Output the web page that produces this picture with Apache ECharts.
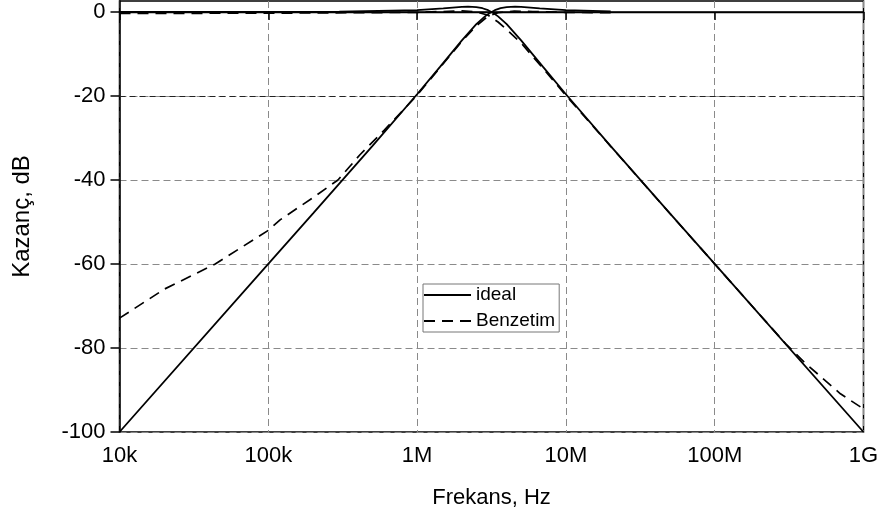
<!DOCTYPE html>
<html>
<head>
<meta charset="utf-8">
<script src="https://cdn.jsdelivr.net/npm/echarts@6/dist/echarts.min.js"></script>
<style>
  html, body { margin: 0; padding: 0; background: #fff; }
  #chart { width: 885px; height: 517px; }
</style>
</head>
<body>
<div id="chart"></div>
<script>
// Frequency axis labels, one per decade
const xTickValues = [1e4, 1e5, 1e6, 1e7, 1e8, 1e9];
const xTickLabels = ['10k', '100k', '1M', '10M', '100M', '1G'];
const yTickValues = [-100, -80, -60, -40, -20, 0];

// Ideal low-pass response (Hz, dB)
const idealLpFreq = [1e4, 1e5, 3e5, 1e6, 1.5e6, 2e6, 2.2e6, 2.5e6, 2.75e6, 3e6, 3.25e6, 3.5e6, 4e6, 5e6, 7e6, 1e7, 2e7, 5e7, 1e8, 1e9];
const idealLpGain = [0, 0, 0.04, 0.41, 0.83, 1.19, 1.25, 1.16, 0.88, 0.41, -0.25, -1.06, -2.92, -6.77, -13.03, -19.59, -31.93, -47.94, -60, -100];

// Ideal high-pass response (Hz, dB)
const idealHpFreq = [1e4, 1e5, 2e5, 5e5, 1e6, 1.43e6, 2e6, 2.5e6, 2.86e6, 3.08e6, 3.33e6, 3.64e6, 4e6, 4.55e6, 5e6, 6.67e6, 1e7, 2e7];
const idealHpGain = [-100, -60, -47.94, -31.93, -19.59, -13.03, -6.77, -2.92, -1.06, -0.25, 0.41, 0.88, 1.16, 1.25, 1.19, 0.83, 0.41, 0.11];

// Simulated low-pass response (Hz, dB)
const simLpFreq = [1e4, 1e5, 1e6, 1.5e6, 2e6, 2.5e6, 3e6, 3.5e6, 4e6, 5e6, 7e6, 1e7, 2e7, 5e7, 1e8, 2e8, 3e8, 4e8, 5e8, 7e8, 1e9];
const simLpGain = [-0.35, -0.3, -0.1, 0.1, 0.25, 0.0, -0.8, -2.4, -4.2, -7.4, -13.4, -19.9, -32, -48, -60, -72, -79, -83.4, -86.4, -90.9, -94.5];

// Simulated high-pass response (Hz, dB)
const simHpFreq = [1e4, 2e4, 4.4e4, 1e5, 1.2e5, 2e5, 2.94e5, 4.13e5, 6e5, 8e5, 1e6, 1.43e6, 2e6, 2.5e6, 3e6, 3.5e6, 4.5e6, 6e6, 1e7, 2e7];
const simHpGain = [-72.9, -66, -60, -52, -49.5, -44.2, -40, -34, -28.2, -23.5, -19.8, -13.2, -7.0, -3.3, -1.0, -0.2, 0.2, 0.1, -0.1, -0.2];

const pairs = (f, g) => f.map((v, i) => [v, g[i]]);

const FONT = '"Liberation Sans", Arial, sans-serif';
const solidStyle = { color: '#000', width: 1.8, type: 'solid' };
const dashStyle = { color: '#000', width: 1.7, type: [11, 7] };

const chart = echarts.init(document.getElementById('chart'), null, { renderer: 'canvas' });

chart.setOption({
  animation: false,
  backgroundColor: '#fff',
  grid: {
    left: 119.5, right: 21.5, top: 1, bottom: 85,
    show: true, borderColor: '#000', borderWidth: 1.5, backgroundColor: 'transparent'
  },
  legend: {
    data: ['ideal', 'Benzetim'],
    orient: 'vertical',
    left: 423, top: 284,
    padding: [1, 4, 1, 0],
    itemWidth: 47, itemHeight: 14, itemGap: 6,
    itemStyle: { opacity: 0 },
    backgroundColor: '#fff',
    borderColor: '#777', borderWidth: 1,
    textStyle: { fontFamily: FONT, fontSize: 19, color: '#000', lineHeight: 20 }
  },
  xAxis: {
    type: 'log', logBase: 10, min: 1e4, max: 1e9,
    name: 'Frekans, Hz', nameLocation: 'middle', nameGap: 55,
    nameTextStyle: { fontFamily: FONT, fontSize: 22, color: '#000' },
    axisLine: { show: true, lineStyle: { color: '#000', width: 1.5 } },
    axisTick: { show: true, length: 8, lineStyle: { color: '#000', width: 1.5 } },
    minorTick: { show: false },
    axisLabel: {
      margin: 13, fontFamily: FONT, fontSize: 22, color: '#000',
      formatter: v => {
        const i = xTickValues.findIndex(t => Math.abs(Math.log10(v) - Math.log10(t)) < 1e-6);
        return i >= 0 ? xTickLabels[i] : '';
      }
    },
    splitLine: { show: true, lineStyle: { color: '#8a8a8a', width: 1, type: [7, 4] } }
  },
  yAxis: {
    type: 'value', min: -100, max: 2.6,
    name: 'Kazanç, dB', nameLocation: 'middle', nameGap: 85, nameRotate: 90,
    nameTextStyle: { fontFamily: FONT, fontSize: 24, color: '#000' },
    axisLine: { show: true, lineStyle: { color: '#000', width: 1.5 } },
    axisTick: { show: true, length: 9, customValues: yTickValues, lineStyle: { color: '#000', width: 1.5 } },
    axisLabel: { margin: 14, fontFamily: FONT, fontSize: 22, color: '#000', customValues: yTickValues },
    splitLine: { show: true, lineStyle: { color: '#8a8a8a', width: 1, type: [7, 4] } }
  },
  series: [
    {
      name: 'ideal', type: 'line', data: pairs(idealLpFreq, idealLpGain),
      showSymbol: false, symbol: 'none', lineStyle: solidStyle, itemStyle: { color: '#000' },
      z: 5,
      markLine: {
        silent: true, symbol: 'none', label: { show: false },
        data: [
          { yAxis: 0, lineStyle: { color: '#000', width: 1.4, type: 'solid' } },
          { yAxis: -20, lineStyle: { color: '#222', width: 1.2, type: [6, 4] } }
        ]
      }
    },
    {
      name: 'ideal', type: 'line', data: pairs(idealHpFreq, idealHpGain),
      showSymbol: false, symbol: 'none', lineStyle: solidStyle, itemStyle: { color: '#000' }, z: 5
    },
    {
      name: 'Benzetim', type: 'line', data: pairs(simLpFreq, simLpGain),
      showSymbol: false, symbol: 'none', lineStyle: dashStyle, itemStyle: { color: '#000' }, z: 4
    },
    {
      name: 'Benzetim', type: 'line', data: pairs(simHpFreq, simHpGain),
      showSymbol: false, symbol: 'none', lineStyle: dashStyle, itemStyle: { color: '#000' }, z: 4
    }
  ]
});
</script>
</body>
</html>
